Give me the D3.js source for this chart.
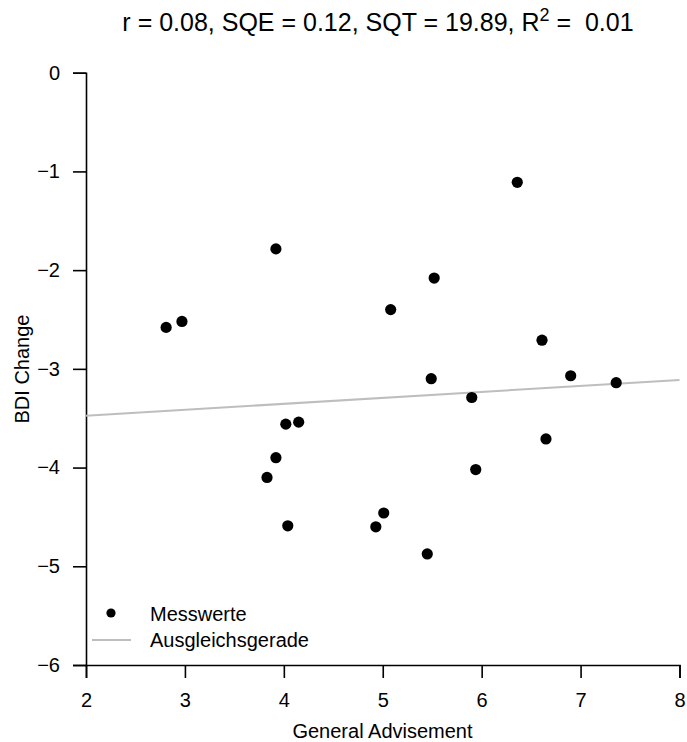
<!DOCTYPE html>
<html><head><meta charset="utf-8">
<script src="https://cdn.jsdelivr.net/npm/d3@7"></script>
<style>body{margin:0;background:#fff}text{font-family:"Liberation Sans",Arial,sans-serif}</style>
</head><body>
<svg id="c" width="687" height="742"></svg>
<script>
const advisement = [3.92, 2.81, 2.97, 6.36, 5.52, 5.08, 6.61, 5.49, 6.90, 7.36, 5.90, 6.65, 5.94, 4.02, 4.15, 3.92, 3.83, 4.04, 5.01, 4.93, 5.45];
const bdiChange  = [-1.785, -2.58, -2.52, -1.11, -2.08, -2.40, -2.71, -3.10, -3.07, -3.14, -3.29, -3.71, -4.02, -3.56, -3.54, -3.90, -4.10, -4.59, -4.46, -4.60, -4.875];
const fitX = [2, 8];
const fitY = [-3.475, -3.113];
const xTicks = [2, 3, 4, 5, 6, 7, 8];
const yTicks = [0, -1, -2, -3, -4, -5, -6];
const legendLabels = ["Messwerte", "Ausgleichsgerade"];

const FS = 20;
const svg = d3.select("#c");
const x = d3.scaleLinear().domain([2, 8]).range([86, 679.5]);
const y = d3.scaleLinear().domain([-6, 0]).range([665, 72.7]);
const fmt = d => d < 0 ? "\u2212" + Math.abs(d) : String(d);

const xa = svg.append("g").attr("transform", "translate(0,665)")
  .call(d3.axisBottom(x).tickValues(xTicks).tickSizeOuter(0).tickSize(13).tickPadding(15).tickFormat(fmt));
const ya = svg.append("g").attr("transform", "translate(86,0)")
  .call(d3.axisLeft(y).tickValues(yTicks).tickSizeOuter(0).tickSize(13).tickPadding(13).tickFormat(fmt));
[xa, ya].forEach(a => {
  a.selectAll("path,line").attr("stroke", "#000").attr("stroke-width", 1.6);
  a.selectAll("text").attr("font-size", FS).attr("fill", "#000").style("font-family", '"Liberation Sans",Arial,sans-serif');
});

svg.append("line")
  .attr("x1", x(fitX[0])).attr("y1", y(fitY[0]))
  .attr("x2", x(fitX[1])).attr("y2", y(fitY[1]))
  .attr("stroke", "#bebebe").attr("stroke-width", 2);

svg.append("g").selectAll("circle").data(advisement).join("circle")
  .attr("cx", d => x(d)).attr("cy", (d, i) => y(bdiChange[i])).attr("r", 5.6).attr("fill", "#000");

// title
const t = svg.append("text").attr("x", 378).attr("y", 31).attr("text-anchor", "middle").attr("font-size", 25).style("white-space", "pre");
t.append("tspan").text("r = 0.08, SQE = 0.12, SQT = 19.89, R");
t.append("tspan").attr("dy", -10).attr("font-size", 18).text("2");
t.append("tspan").attr("dy", 10).text(" =\u00a0 0.01");

svg.append("text").attr("x", 382.5).attr("y", 738).attr("text-anchor", "middle").attr("font-size", FS).text("General Advisement");
svg.append("text").attr("transform", "translate(29,369) rotate(-90)").attr("text-anchor", "middle").attr("font-size", FS).text("BDI Change");

// legend
const lg = svg.append("g");
lg.append("circle").attr("cx", 111).attr("cy", 613).attr("r", 4.6).attr("fill", "#000");
lg.append("line").attr("x1", 92).attr("x2", 131).attr("y1", 640).attr("y2", 640).attr("stroke", "#bebebe").attr("stroke-width", 2);
lg.selectAll("text.lg").data(legendLabels).join("text").attr("class", "lg")
  .attr("x", 150).attr("y", (d, i) => 620.5 + i * 26.5).attr("font-size", FS).text(d => d);
</script>
</body></html>
